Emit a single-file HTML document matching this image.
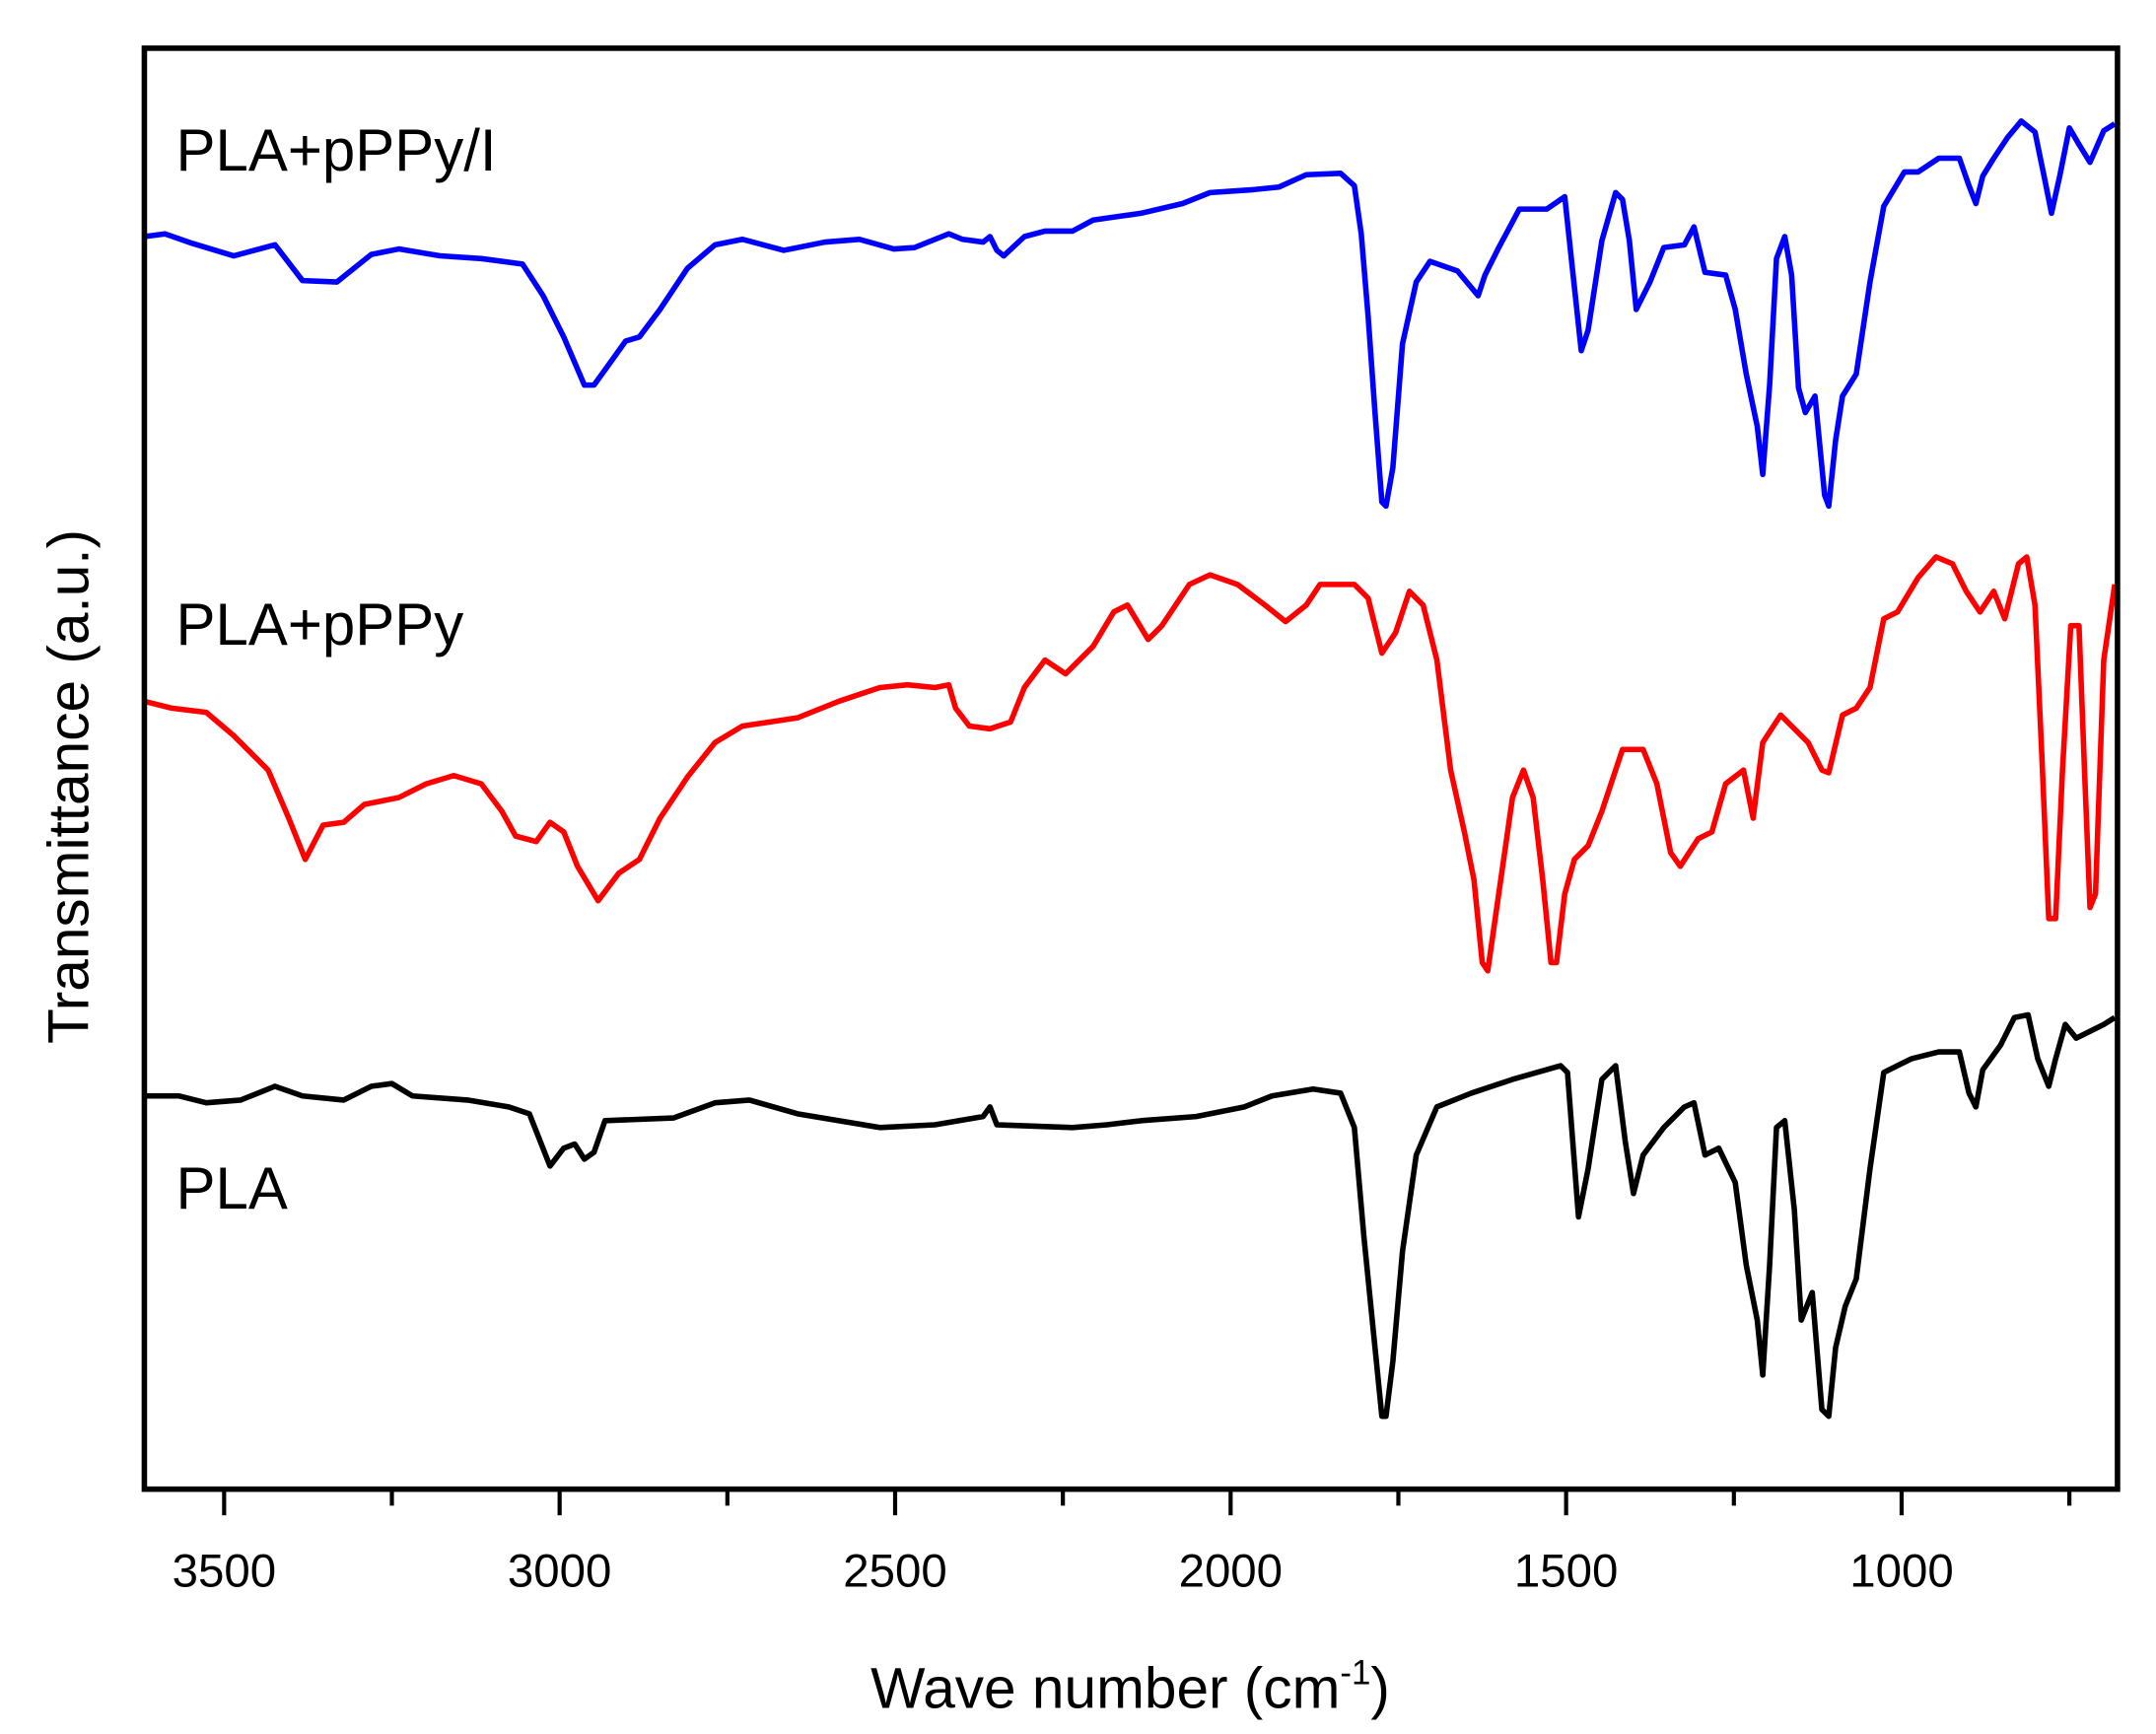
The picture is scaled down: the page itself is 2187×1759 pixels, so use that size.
<!DOCTYPE html>
<html><head><meta charset="utf-8"><style>html,body{margin:0;padding:0;background:#fff}svg{display:block}</style></head>
<body>
<svg width="2187" height="1759" viewBox="0 0 1568 1261" xmlns="http://www.w3.org/2000/svg" font-family="Liberation Sans, Arial, sans-serif">
<rect width="1568" height="1261" fill="#fff"/>
<g fill="none" stroke-width="4" stroke-linejoin="round">
<polyline stroke="#0000ff" points="105,172 120,170 140,177 170,186 200,178 220,204 245,205 270,185 290,181 320,186 350,188 380,192 395,215 410,245 425,280 432,280 445,262 455,248 465,245 480,225 500,195 520,178 540,174 570,182 600,176 625,174 650,181 665,180 690,170 700,174 715,176 720,172 725,182 730,186 745,172 760,168 780,168 795,160 830,155 860,148 880,140 910,138 930,136 950,127 975,126 985,135 990,170 995,230 1000,300 1005,365 1008,368 1013,340 1020,250 1030,205 1040,190 1060,197 1075,215 1080,200 1090,180 1105,152 1125,152 1138,143 1143,190 1150,255 1155,240 1165,175 1175,140 1180,145 1185,175 1190,225 1200,205 1210,180 1225,178 1232,165 1240,198 1255,200 1262,225 1270,272 1278,310 1282,345 1287,280 1292,188 1298,172 1303,200 1308,282 1313,300 1320,288 1327,360 1330,368 1335,320 1340,288 1345,280 1350,272 1360,205 1370,150 1385,125 1395,125 1410,115 1425,115 1432,135 1437,148 1442,128 1450,115 1460,100 1470,88 1480,96 1487,130 1492,155 1498,128 1505,93 1512,105 1520,118 1530,95 1538,90"/>
<polyline stroke="#ff0000" points="105,510 125,515 150,518 170,535 195,560 210,595 222,625 235,600 250,598 265,585 290,580 310,570 330,564 350,570 365,590 375,608 390,612 400,598 410,605 420,630 435,655 450,635 465,625 480,595 500,565 520,540 540,528 560,525 580,522 610,510 640,500 660,498 680,500 690,498 695,515 705,528 720,530 735,525 745,500 760,480 775,490 795,470 810,445 820,440 835,465 845,455 865,425 880,418 900,425 920,440 935,452 950,440 960,425 985,425 995,435 1005,475 1015,460 1025,430 1035,440 1045,480 1055,560 1065,605 1072,640 1078,700 1082,706 1090,650 1100,580 1108,560 1115,580 1122,640 1128,700 1132,700 1138,650 1145,625 1155,615 1165,590 1180,545 1195,545 1205,570 1215,620 1222,630 1235,610 1245,605 1255,570 1268,560 1275,595 1282,540 1295,520 1305,530 1315,540 1325,560 1330,562 1340,520 1350,515 1360,500 1370,450 1380,445 1395,420 1408,405 1420,410 1430,430 1440,445 1450,430 1458,450 1468,410 1474,405 1480,440 1485,550 1490,668 1495,668 1500,560 1506,455 1512,455 1516,560 1520,660 1524,650 1530,480 1538,425"/>
<polyline stroke="#000" points="105,797 130,797 150,802 175,800 200,790 220,797 250,800 270,790 285,788 300,797 340,800 370,805 385,810 400,848 410,835 418,832 425,843 432,838 440,815 490,813 520,802 545,800 580,810 640,820 680,818 715,812 720,805 725,818 780,820 805,818 830,815 870,812 905,805 925,797 955,792 975,795 985,820 992,900 1000,980 1005,1030 1008,1030 1013,990 1020,910 1030,840 1045,805 1070,795 1100,785 1135,775 1140,780 1148,885 1155,850 1165,785 1175,775 1182,830 1188,868 1195,840 1210,820 1225,805 1232,802 1240,840 1250,835 1262,860 1270,920 1278,960 1282,1000 1287,920 1292,820 1298,815 1305,880 1310,960 1318,940 1325,1025 1330,1030 1335,980 1342,950 1350,930 1360,850 1370,780 1380,775 1390,770 1410,765 1425,765 1432,795 1437,805 1442,778 1455,760 1465,740 1475,738 1482,770 1490,790 1495,770 1502,745 1510,755 1530,745 1538,740"/>
</g>
<rect x="105" y="35" width="1435" height="1048" fill="none" stroke="#000" stroke-width="4"/>
<g stroke="#000" stroke-width="3">
<line x1="163" y1="1083" x2="163" y2="1102"/><line x1="285" y1="1083" x2="285" y2="1095"/>
<line x1="407" y1="1083" x2="407" y2="1102"/><line x1="529" y1="1083" x2="529" y2="1095"/>
<line x1="651" y1="1083" x2="651" y2="1102"/><line x1="773" y1="1083" x2="773" y2="1095"/>
<line x1="895" y1="1083" x2="895" y2="1102"/><line x1="1017" y1="1083" x2="1017" y2="1095"/>
<line x1="1139" y1="1083" x2="1139" y2="1102"/><line x1="1261" y1="1083" x2="1261" y2="1095"/>
<line x1="1383" y1="1083" x2="1383" y2="1102"/><line x1="1505" y1="1083" x2="1505" y2="1095"/>
</g>
<g font-size="34" text-anchor="middle" fill="#000">
<text x="163" y="1154">3500</text><text x="407" y="1154">3000</text><text x="651" y="1154">2500</text>
<text x="895" y="1154">2000</text><text x="1139" y="1154">1500</text><text x="1383" y="1154">1000</text>
</g>
<text x="822" y="1242" font-size="42" text-anchor="middle">Wave number (cm<tspan dy="-17" font-size="25">-1</tspan><tspan dy="17">)</tspan></text>
<text transform="translate(64,572) rotate(-90)" font-size="42" text-anchor="middle">Transmittance (a.u.)</text>
<g font-size="43" fill="#000">
<text x="128" y="124">PLA+pPPy/I</text>
<text x="128" y="469">PLA+pPPy</text>
<text x="128" y="879">PLA</text>
</g>
</svg>
</body></html>
